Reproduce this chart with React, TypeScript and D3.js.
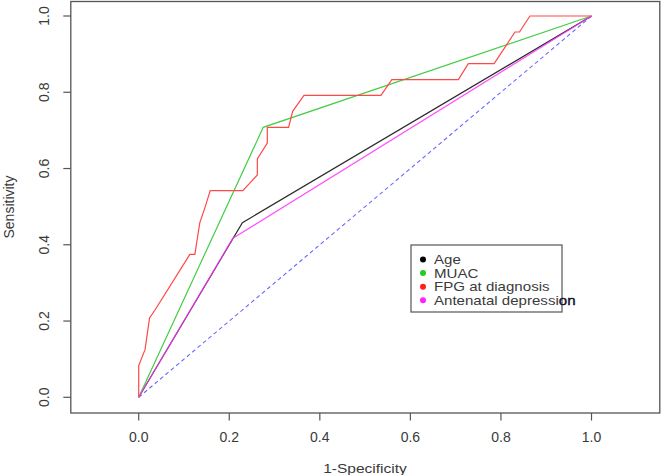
import React from "react";
import * as d3 from "d3";

const ageFpr = [0, 0.229, 1];
const ageTpr = [0, 0.458, 1];
const muacFpr = [0, 0.275, 1];
const muacTpr = [0, 0.708, 1];
const fpgFpr = [0, 0, 0.014, 0.024, 0.036, 0.113, 0.124, 0.135, 0.147, 0.158, 0.230, 0.262, 0.262, 0.284, 0.284, 0.331, 0.340, 0.365, 0.535, 0.559, 0.706, 0.728, 0.785, 0.831, 0.841, 0.864, 1];
const fpgTpr = [0, 0.083, 0.125, 0.208, 0.229, 0.375, 0.375, 0.458, 0.5, 0.542, 0.542, 0.583, 0.625, 0.667, 0.708, 0.708, 0.75, 0.792, 0.792, 0.833, 0.833, 0.875, 0.875, 0.958, 0.958, 1, 1];
const depFpr = [0, 0.208, 1];
const depTpr = [0, 0.417, 1];
const refLine = [0, 1];

const xTicks = [0, 0.2, 0.4, 0.6, 0.8, 1.0];
const yTicks = [0, 0.2, 0.4, 0.6, 0.8, 1.0];
const legendLabels = ["Age", "MUAC", "FPG at diagnosis", "Antenatal depression"];
const legendColors = ["#000000", "#22cc22", "#ff2020", "#ff20ff"];

const W = 661;
const H = 475;

export default function App() {
  const x = d3.scaleLinear().domain([0, 1]).range([138.7, 591.5]);
  const y = d3.scaleLinear().domain([0, 1]).range([397.3, 16]);
  const frame = { left: 70.8, right: 659.8, top: 1.5, bottom: 413 };

  const pts = (xs: number[], ys: number[]) => xs.map((v, i) => [v, ys[i]] as [number, number]);
  const line = d3
    .line<[number, number]>()
    .x((d) => x(d[0]))
    .y((d) => y(d[1]));

  const textCol = "#3a3a3a";
  const font = "'Liberation Sans', Arial, sans-serif";

  return (
    <div style={{ position: "absolute", left: 0, top: 0 }}>
      <svg width={W} height={H} style={{ display: "block", background: "#fff" }} fontFamily={font}>
        <rect x={0} y={0} width={W} height={H} fill="#fff" />
        {/* reference diagonal */}
        <path d={line(pts(refLine, refLine)) || ""} fill="none" stroke="#6a6aff" strokeWidth={1.1} strokeDasharray="4,3" />
        {/* curves */}
        <path d={line(pts(ageFpr, ageTpr)) || ""} fill="none" stroke="#2a2a2a" strokeWidth={1.2} />
        <path d={line(pts(muacFpr, muacTpr)) || ""} fill="none" stroke="#44cc44" strokeWidth={1.2} />
        <path d={line(pts(fpgFpr, fpgTpr)) || ""} fill="none" stroke="#ff4848" strokeWidth={1.2} />
        <path d={line(pts(depFpr, depTpr)) || ""} fill="none" stroke="#ff33ff" strokeWidth={1.2} strokeOpacity={0.85} />

        {/* frame */}
        <rect
          x={frame.left}
          y={frame.top}
          width={frame.right - frame.left}
          height={frame.bottom - frame.top}
          fill="none"
          stroke="#555"
          strokeWidth={1.3}
        />

        {/* x axis */}
        {xTicks.map((t) => (
          <g key={"x" + t}>
            <line x1={x(t)} x2={x(t)} y1={frame.bottom} y2={frame.bottom + 7.5} stroke="#555" strokeWidth={1.2} />
            <text x={x(t)} y={441.5} textAnchor="middle" fontSize={14} fill={textCol}>
              {t.toFixed(1)}
            </text>
          </g>
        ))}
        <g transform={`translate(365, 473) scale(1.15,1)`}>
          <text x={0} y={0} textAnchor="middle" fontSize={13.5} fill={textCol}>
            1-Specificity
          </text>
        </g>

        {/* y axis */}
        {yTicks.map((t) => (
          <g key={"y" + t}>
            <line x1={frame.left - 7.5} x2={frame.left} y1={y(t)} y2={y(t)} stroke="#555" strokeWidth={1.2} />
            <text
              transform={`translate(48.5, ${y(t)}) rotate(-90)`}
              textAnchor="middle"
              fontSize={14}
              fill={textCol}
            >
              {t.toFixed(1)}
            </text>
          </g>
        ))}
        <text transform={`translate(13.5, 207) rotate(-90)`} textAnchor="middle" fontSize={14} fill={textCol}>
          Sensitivity
        </text>

        {/* legend */}
        <rect x={411} y={245} width={151} height={67} fill="#fff" stroke="#555" strokeWidth={1.2} />
        {legendLabels.map((lab, i) => {
          const cy = 259.5 + i * 13.6;
          const overflow = lab === "Antenatal depression";
          return (
            <g key={lab}>
              <circle cx={423} cy={cy} r={3} fill={legendColors[i]} />
              <g transform={`translate(434, ${cy + 4.7}) scale(1.16,1)`}>
                <text x={0} y={0} fontSize={13} fill={textCol}>
                  {overflow ? lab.slice(0, -2) : lab}
                  {overflow ? (
                    <tspan fill="#0a0a2a" stroke="#0a0a2a" strokeWidth={0.35}>
                      {lab.slice(-2)}
                    </tspan>
                  ) : null}
                </text>
              </g>
            </g>
          );
        })}
      </svg>
    </div>
  );
}
